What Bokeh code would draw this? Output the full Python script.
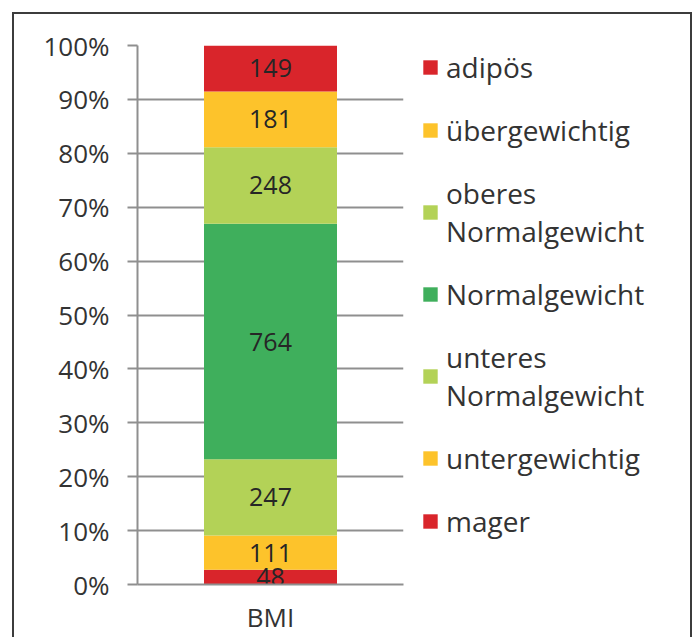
from bokeh.plotting import figure
from bokeh.models import (ColumnDataSource, Legend, LegendItem, FactorRange, Range1d,
                          NumeralTickFormatter, FixedTicker)
from bokeh.embed import file_html
from bokeh.resources import INLINE
from bokeh.core.properties import value

# ---- data ----
categories = ["BMI"]
groups = ["mager", "untergewichtig", "unteres Normalgewicht", "Normalgewicht",
          "oberes Normalgewicht", "übergewichtig", "adipös"]
legend_labels = ["mager", "untergewichtig", "unteres\nNormalgewicht", "Normalgewicht",
                 "oberes\nNormalgewicht", "übergewichtig", "adipös"]
counts = [48, 111, 247, 764, 248, 181, 149]
colors = ["#D9252B", "#FDC32B", "#B3D257", "#3FAF5C", "#B3D257", "#FDC32B", "#D9252B"]
y_ticks = [0.0, 0.1, 0.2, 0.3, 0.4, 0.5, 0.6, 0.7, 0.8, 0.9, 1.0]

FONT = "Open Sans"
TEXT_COLOR = "#333333"
GRID = "#8f8f8f"

total = sum(counts)
fractions = [c / total for c in counts]
data = {"cat": categories}
for g, f in zip(groups, fractions):
    data[g] = [f]
src = ColumnDataSource(data)

p = figure(x_range=FactorRange(*categories, range_padding=0), y_range=Range1d(0, 1),
           frame_width=266, frame_height=539, output_backend="svg", toolbar_location=None,
           min_border_left=123, min_border_right=287, min_border_top=31, min_border_bottom=48)
p.styles = {"border": "2px solid #3c3c3c", "border-bottom": "none", "margin": "12px 0 0 12px",
            "max-width": "680px", "overflow": "hidden", "box-sizing": "border-box"}

renderers = p.vbar_stack(groups, x="cat", width=0.5, color=colors, line_color=None, source=src)

# segment labels
mids = []
acc = 0.0
for f in fractions:
    mids.append(acc + f / 2)
    acc += f
lab_src = ColumnDataSource(dict(x=categories * len(counts), y=mids, t=[str(c) for c in counts]))
p.text(x="x", y="y", text="t", source=lab_src, text_align="center", text_baseline="middle",
       text_font=value(FONT), text_font_size="25px", text_color="#262626")

# axes
p.yaxis.ticker = FixedTicker(ticks=y_ticks)
p.yaxis.formatter = NumeralTickFormatter(format="0%")
p.yaxis.major_label_text_font = FONT
p.yaxis.major_label_text_font_size = "26px"
p.yaxis.major_label_text_color = TEXT_COLOR
p.yaxis.axis_line_color = GRID
p.yaxis.axis_line_width = 2
p.yaxis.major_tick_line_color = GRID
p.yaxis.major_tick_line_width = 2
p.yaxis.major_tick_in = 0
p.yaxis.major_tick_out = 10
p.yaxis.minor_tick_line_color = None
p.yaxis.major_label_standoff = 18

p.xaxis.major_label_text_font = FONT
p.xaxis.major_label_text_font_size = "26px"
p.xaxis.major_label_text_color = TEXT_COLOR
p.xaxis.axis_line_color = GRID
p.xaxis.axis_line_width = 2
p.xaxis.major_tick_line_color = None
p.xaxis.major_tick_out = 0
p.xaxis.major_label_standoff = 14

p.xgrid.grid_line_color = None
p.ygrid.grid_line_color = GRID
p.ygrid.grid_line_width = 2
p.outline_line_color = None

items = [LegendItem(label=legend_labels[i], renderers=[renderers[i]]) for i in reversed(range(len(groups)))]
legend = Legend(items=items, location=(18, 44), orientation="vertical",
                label_text_font=FONT, label_text_font_size="28px", label_text_color=TEXT_COLOR,
                glyph_width=18, glyph_height=18, label_standoff=7, spacing=25,
                padding=0, margin=0, border_line_color=None, background_fill_alpha=0)
p.add_layout(legend, "right")

open("out.html", "w").write(file_html(p, INLINE))
